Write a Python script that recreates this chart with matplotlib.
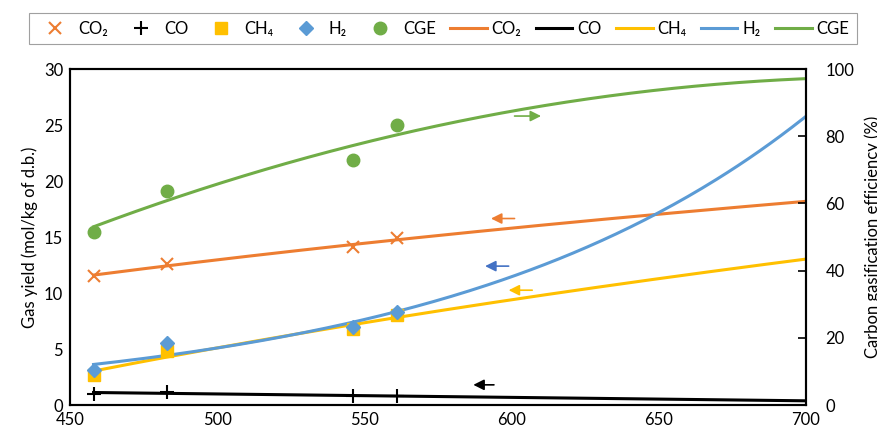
import numpy as np
import matplotlib.pyplot as plt
from matplotlib.lines import Line2D

plt.rcParams['font.family'] = ['Lato', 'DejaVu Sans']
plt.rcParams['font.size'] = 11

# Temperature of the runs
temp = [458, 483, 546, 561]

# Gas yields (mol/kg of d.b.)
co2 = [11.5, 12.6, 14.1, 14.9]
co = [1.0, 1.2, 0.8, 0.8]
ch4 = [2.7, 4.8, 6.8, 8.0]
h2 = [3.1, 5.5, 7.0, 8.3]
# Carbon gasification efficiency (%)
cge = [51.5, 63.7, 73.0, 83.3]

c_co2 = '#ED7D31'
c_co = '#000000'
c_ch4 = '#FFC000'
c_h2 = '#5B9BD5'
c_cge = '#70AD47'

fig = plt.figure(figsize=(8.78, 4.37), dpi=100)
ax = fig.add_axes([70/878, 1-405/437, (806-70)/878, (405-69)/437])
ax2 = ax.twinx()

xs = np.linspace(458, 700, 200)
t = np.array(temp, dtype=float)

# trend lines like the spreadsheet ones
p = np.polyfit(np.log(t), co2, 1)
ax.plot(xs, np.polyval(p, np.log(xs)), color=c_co2, lw=2.2)
p = np.polyfit(t, co, 1)
ax.plot(xs, np.polyval(p, xs), color=c_co, lw=2.2)
p = np.polyfit(np.log(t), ch4, 1)
ax.plot(xs, np.polyval(p, np.log(xs)), color=c_ch4, lw=2.2)
p = np.polyfit(t, np.log(h2), 1)
ax.plot(xs, np.exp(np.polyval(p, xs)), color=c_h2, lw=2.2)
p = np.polyfit(t, cge, 2)
ax2.plot(xs, np.polyval(p, xs), color=c_cge, lw=2.2)

ax.plot(temp, co2, 'x', color=c_co2, ms=9, mew=1.5, ls='none')
ax.plot(temp, co, '+', color=c_co, ms=10, mew=1.5, ls='none')
ax.plot(temp, ch4, 's', color=c_ch4, ms=8, ls='none')
ax.plot(temp, h2, 'D', color=c_h2, ms=7, ls='none')
ax2.plot(temp, cge, 'o', color=c_cge, ms=9, ls='none')

# arrows pointing to the axis each series belongs to
def arrow(a, x0, x1, y, col):
    a.annotate('', xy=(x0, y), xytext=(x1, y),
               arrowprops=dict(arrowstyle='-|>', color=col, lw=1.2,
                               mutation_scale=16, shrinkA=0, shrinkB=0))

arrow(ax, 593, 601, 16.65, c_co2)
arrow(ax, 591, 599, 12.4, '#4472C4')
arrow(ax, 599, 607, 10.25, c_ch4)
arrow(ax, 587, 594, 1.8, c_co)
arrow(ax2, 610, 601, 86.0, c_cge)

ax.set_xlim(450, 700)
ax.set_ylim(0, 30)
ax2.set_ylim(0, 100)
ax.set_xticks([450, 500, 550, 600, 650, 700])
ax.set_yticks([0, 5, 10, 15, 20, 25, 30])
ax2.set_yticks([0, 20, 40, 60, 80, 100])
ax.set_ylabel('Gas yield (mol/kg of d.b.)', fontsize=12)
ax2.set_ylabel('Carbon gasification efficiency (%)', fontsize=12, labelpad=7)

ax.tick_params(labelsize=12, length=0, pad=5)
ax2.tick_params(labelsize=12, length=6, width=1.2, direction='in', pad=14)
for a in (ax, ax2):
    for s in a.spines.values():
        s.set_linewidth(1.5)

handles = [
    Line2D([], [], marker='x', color=c_co2, ls='none', ms=9, mew=1.5),
    Line2D([], [], marker='+', color=c_co, ls='none', ms=10, mew=1.5),
    Line2D([], [], marker='s', color=c_ch4, ls='none', ms=8),
    Line2D([], [], marker='D', color=c_h2, ls='none', ms=7),
    Line2D([], [], marker='o', color=c_cge, ls='none', ms=9),
    Line2D([], [], color=c_co2, lw=2.2),
    Line2D([], [], color=c_co, lw=2.2),
    Line2D([], [], color=c_ch4, lw=2.2),
    Line2D([], [], color=c_h2, lw=2.2),
    Line2D([], [], color=c_cge, lw=2.2),
]
labels = ['CO₂', 'CO', 'CH₄', 'H₂', 'CGE',
          'CO₂', 'CO', 'CH₄', 'H₂', 'CGE']
leg = fig.legend(handles, labels, loc='center', bbox_to_anchor=(443/878, 1-28.5/437),
                 ncol=10, frameon=True, fancybox=False, edgecolor='#888888',
                 fontsize=12, handlelength=2.2, handletextpad=0.3, columnspacing=0.85,
                 borderpad=0.45)
leg.get_frame().set_linewidth(0.8)

fig.savefig('out.png', dpi=100)
